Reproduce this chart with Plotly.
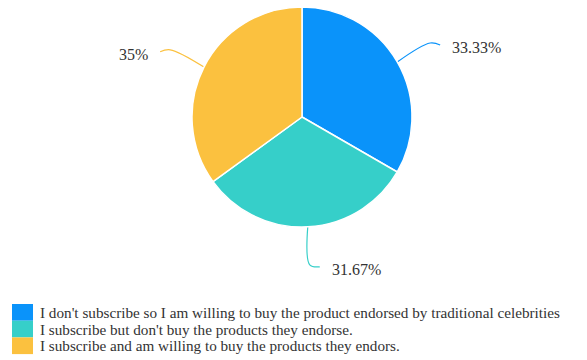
import math
import plotly.graph_objects as go

labels = [
    "I don't subscribe so I am willing to buy the product endorsed by traditional celebrities",
    "I subscribe but don't buy the products they endorse.",
    "I subscribe and am willing to buy the products they endors.",
]
values = [33.33, 31.67, 35.0]
pct_text = ["33.33%", "31.67%", "35%"]
colors = ["#0A93FA", "#36CFC9", "#FBC13F"]

W, H = 587, 360
cx, cy, R = 302, 117, 110
FONT = "Liberation Serif, Times New Roman, serif"

fig = go.Figure()
fig.add_trace(go.Pie(
    labels=labels, values=values, sort=False, direction="clockwise", rotation=0,
    marker=dict(colors=colors, line=dict(color="white", width=1.5)),
    textinfo="none", hoverinfo="label+percent", showlegend=False,
    domain=dict(x=[(cx - R) / W, (cx + R) / W], y=[(H - cy - R) / H, (H - cy + R) / H]),
))

# leader lines and labels computed from slice angles
total = sum(values)
cum = 0.0
for v, t, c in zip(values, pct_text, colors):
    mid = (cum + v / 2) / total * 2 * math.pi
    cum += v
    sx, sy = math.sin(mid), -math.cos(mid)
    x0, y0 = cx + R * sx, cy + R * sy
    x1, y1 = cx + (R + 38) * sx, cy + (R + 38) * sy
    side = 1 if sx >= 0 else -1
    x2, y2 = x1 + 10 * side, y1 + 2
    fig.add_trace(go.Scatter(
        x=[x0, x1, x2], y=[H - y0, H - y1, H - y2], mode="lines",
        line=dict(color=c, width=1.2, shape="spline", smoothing=1.0),
        hoverinfo="skip", showlegend=False, xaxis="x", yaxis="y",
    ))
    fig.add_annotation(
        x=x2 + 10 * side, y=H - y2 - 3, xref="x", yref="y", text=t, showarrow=False,
        xanchor="left" if side > 0 else "right", yanchor="middle",
        font=dict(family=FONT, size=16, color="#333333"),
    )

# custom legend (compact rows, contiguous swatches)
LX0, LX1, LY0, ROW = 12, 33, 304, 16.7
for i, (lab, c) in enumerate(zip(labels, colors)):
    top = LY0 + i * ROW
    fig.add_shape(type="rect", xref="x", yref="y", x0=LX0, x1=LX1,
                  y0=H - top, y1=H - (top + ROW), fillcolor=c, line=dict(width=0))
    fig.add_annotation(x=39, y=H - (top + ROW / 2), xref="x", yref="y", text=lab,
                       showarrow=False, xanchor="left", yanchor="middle", borderpad=0,
                       font=dict(family=FONT, size=15.2, color="#333333"))

fig.update_layout(
    width=W, height=H, margin=dict(l=0, r=0, t=0, b=0),
    paper_bgcolor="white", plot_bgcolor="rgba(0,0,0,0)",
    xaxis=dict(range=[0, W], visible=False, fixedrange=True, domain=[0, 1]),
    yaxis=dict(range=[0, H], visible=False, fixedrange=True, domain=[0, 1]),
    showlegend=False,
)
fig.write_html("out.html")
